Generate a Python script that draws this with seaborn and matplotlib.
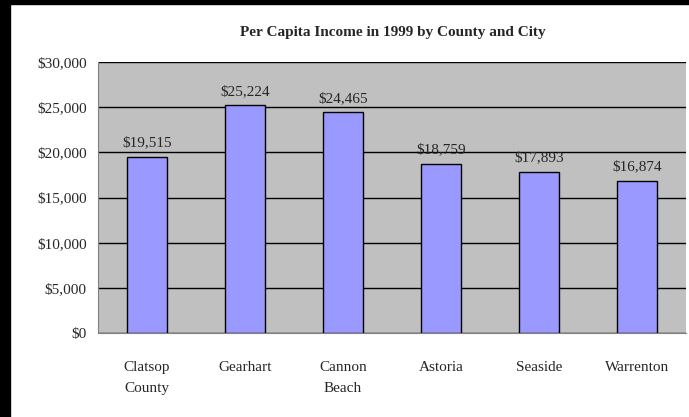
import numpy as np
import pandas as pd
import matplotlib
matplotlib.use("Agg")
import matplotlib.pyplot as plt
from matplotlib.patches import Rectangle
import seaborn as sns

# Dados do gráfico
locais = ["Clatsop\nCounty", "Gearhart", "Cannon\nBeach", "Astoria", "Seaside", "Warrenton"]
renda = [19515, 25224, 24465, 18759, 17893, 16874]
rotulos_y = ["$0", "$5,000", "$10,000", "$15,000", "$20,000", "$25,000", "$30,000"]
valores_y = [0, 5000, 10000, 15000, 20000, 25000, 30000]

df = pd.DataFrame({"local": locais, "renda": renda})

sns.set_style("white")
plt.rcParams["font.family"] = ["Liberation Serif", "DejaVu Serif"]

fig = plt.figure(figsize=(6.89, 4.17), dpi=100)
ax = fig.add_axes([0.142, 0.201, 0.854, 0.650])
ax.set_facecolor("#C0C0C0")

sns.barplot(data=df, x="local", y="renda", color="#9999FF", width=0.41,
            edgecolor="black", linewidth=1, saturation=1, ax=ax, zorder=3)

ax.set_ylim(0, 30000)
ax.set_xlim(-0.5, len(locais) - 0.5)
ax.set_yticks(valores_y)
ax.set_yticklabels(rotulos_y, fontsize=11)
ax.yaxis.grid(True, color="black", linewidth=1, zorder=1)
ax.set_axisbelow(True)

# ticks do eixo x entre as categorias
ax.set_xticks(np.arange(len(locais)))
ax.set_xticklabels(locais, fontsize=11, linespacing=1.85)
ax.tick_params(axis="x", length=0, pad=20)
ax.set_xticks(np.arange(len(locais) + 1) - 0.5, minor=True)
ax.tick_params(axis="x", which="minor", length=5, color="#808080", direction="out")
ax.tick_params(axis="y", length=5, color="#808080", direction="out", pad=3)
for lado in ["left", "bottom"]:
    ax.spines[lado].set_color("#808080")
for lado in ["top", "right"]:
    ax.spines[lado].set_visible(False)

ax.set_xlabel("")
ax.set_ylabel("")

# rótulos de valor
for i, v in enumerate(renda):
    ax.text(i, v + 800, "${:,}".format(v), ha="center", va="bottom", fontsize=11)

fig.text(0.57, 0.923, "Per Capita Income in 1999 by County and City",
         ha="center", va="center", fontsize=11, fontweight="bold")

# borda preta da imagem
fig.patches.append(Rectangle((0, 0), 10 / 689, 1, transform=fig.transFigure,
                             color="black", zorder=10))
fig.patches.append(Rectangle((0, 1 - 4 / 417), 1, 4 / 417, transform=fig.transFigure,
                             color="black", zorder=10))

fig.savefig("out.png", dpi=100)
